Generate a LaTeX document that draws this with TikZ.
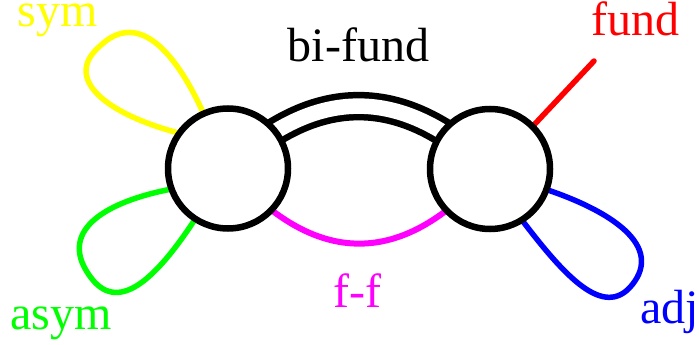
\documentclass[tikz,border=0pt]{standalone}
\usepackage{fontspec}
\setmainfont{Liberation Serif}
\usetikzlibrary{backgrounds}
\definecolor{yel}{RGB}{255,255,0}
\definecolor{grn}{RGB}{0,255,0}
\definecolor{blu}{RGB}{0,0,255}
\definecolor{rd}{RGB}{255,0,0}
\definecolor{mag}{RGB}{255,0,255}
\begin{document}
\begin{tikzpicture}[x=1pt,y=-1pt,
  ring/.style={circle,draw=black,fill=white,line width=6.5pt,minimum size=120pt,inner sep=0pt,outer sep=0pt},
  lab/.style={anchor=base,font=\fontsize{48}{50}\selectfont,inner sep=0pt},
  edgeline/.style={line width=5.5pt,line cap=round},
]
\useasboundingbox (0,0) rectangle (699,345);
\node[ring] (L) at (228,168.5) {};
\node[ring] (R) at (490,169) {};
\coordinate (fe) at (594,61);
\begin{scope}[on background layer]
\draw[line width=6.5pt,double=white,double distance=15.5pt] (L.center) .. controls (315.3,85) and (402.7,85.5) .. (R.center);
\draw[edgeline,mag,line width=6pt] (L.center) .. controls (315.3,268.5) and (402.7,268.7) .. (R.center);
\draw[edgeline,yel] (L.114) .. controls (173,46) and (136,11.5) .. (100,46) .. controls (62,78.5) and (106,114) .. (L.144);
\draw[edgeline,grn] (L.200) .. controls (104,202) and (55,232) .. (92,279) .. controls (120,314) and (158,276) .. (L.237);
\draw[edgeline,blu] (R.340) .. controls (612,211.6) and (663.5,246) .. (632,285) .. controls (603.6,320) and (563.7,274.8) .. (R.302.5);
\draw[edgeline,rd] (R.45) -- (fe);
\end{scope}
\node[lab,yel] (tsym) at (58,27) {sym};
\node[lab,black] (tbi) at (358.5,62) {bi-fund};
\node[lab,rd] (tfund) at (635.5,36) {fund};
\node[lab,mag] (tff) at (357.5,307) {f-f};
\node[lab,grn] (tasym) at (61,329) {asym};
\node[lab,blu] (tadj) at (669.5,323) {adj};
\end{tikzpicture}
\end{document}
